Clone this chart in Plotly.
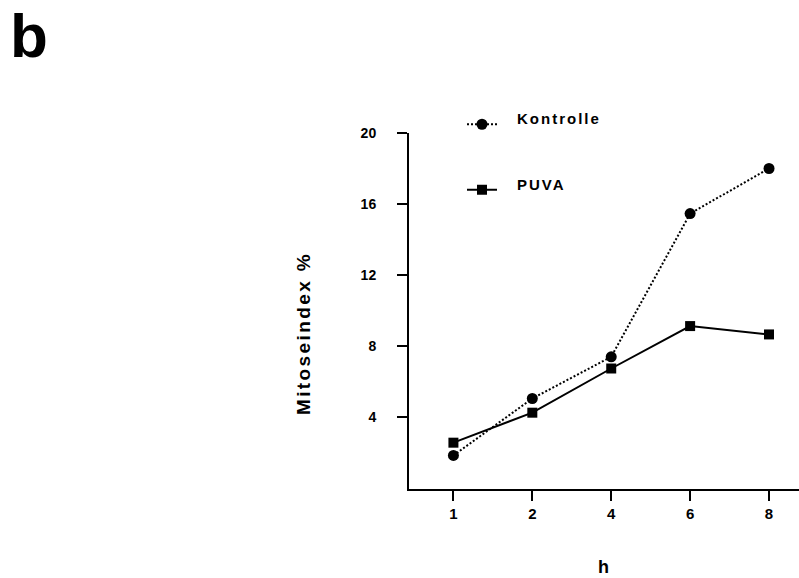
import plotly.graph_objects as go

hours = ["1", "2", "4", "6", "8"]
kontrolle = [1.83, 5.04, 7.39, 15.46, 18.0]
puva = [2.55, 4.24, 6.73, 9.12, 8.65]
y_ticks = [4, 8, 12, 16, 20]

FONT = "Liberation Sans, Arial, sans-serif"

W, H = 799, 578
L, R, T, B = 409, 0, 133, 89
PW, PH = W - L - R, H - T - B

def px(x):
    return (x - L) / PW

def py(y):
    return (H - B - y) / PH

fig = go.Figure()
fig.add_trace(go.Scatter(
    x=hours, y=kontrolle, name="Kontrolle", legendgroup="k",
    mode="lines+markers",
    line=dict(color="black", width=2, dash="2px,2px"),
    marker=dict(symbol="circle", size=11, color="black"),
))
fig.add_trace(go.Scatter(
    x=hours, y=puva, name="PUVA", legendgroup="p",
    mode="lines+markers",
    line=dict(color="black", width=2),
    marker=dict(symbol="square", size=10, color="black"),
))

fig.update_layout(
    width=W, height=H,
    margin=dict(l=L, r=R, t=T, b=B, pad=0),
    paper_bgcolor="white", plot_bgcolor="white",
    font=dict(family=FONT, color="black", weight="bold"),
    showlegend=True,
    legend=dict(
        x=px(462), y=py(108), xanchor="left", yanchor="top",
        bgcolor="rgba(0,0,0,0)", borderwidth=0,
        font=dict(size=15, family=FONT, weight="bold"),
        traceorder="grouped", tracegroupgap=43, itemwidth=30,
    ),
    xaxis=dict(
        type="category", range=[-0.563, 4.38],
        showline=True, linecolor="black", linewidth=2,
        ticks="outside", ticklen=10, tickwidth=2, tickcolor="black",
        showgrid=False, zeroline=False,
        tickfont=dict(size=15, family=FONT, weight="bold"),
    ),
    yaxis=dict(
        range=[-0.06, 20], tickvals=y_ticks,
        showline=True, linecolor="black", linewidth=2,
        ticks="outside", ticklen=10, tickwidth=2, tickcolor="black",
        showgrid=False, zeroline=False,
        ticklabelstandoff=18,
        tickfont=dict(size=14, family=FONT, weight="bold"),
    ),
    annotations=[
        dict(text="b", xref="paper", yref="paper", x=px(8), y=py(36),
             xanchor="left", yanchor="middle", showarrow=False,
             font=dict(size=62, family=FONT, weight="bold")),
        dict(text="Mitoseindex %", xref="paper", yref="paper",
             x=px(303), y=py(333.5), xanchor="center", yanchor="middle",
             textangle=-90, showarrow=False,
             font=dict(size=19, family=FONT, weight="bold")),
        dict(text="h", xref="paper", yref="paper",
             x=px(603.5), y=py(567), xanchor="center", yanchor="middle",
             showarrow=False,
             font=dict(size=18, family=FONT, weight="bold")),
    ],
)

post = """
var gd = document.getElementById('{plot_id}');
gd.querySelectorAll('.legend .scrollbox').forEach(function(s){ s.removeAttribute('clip-path'); });
gd.querySelectorAll('.legendtext').forEach(function(t){
  t.style.letterSpacing = '2px';
  var x = parseFloat(t.getAttribute('x') || 0);
  var y = parseFloat(t.getAttribute('y') || 0);
  t.setAttribute('x', x + 15);
  t.setAttribute('y', y - 6);
});
gd.querySelectorAll('.annotation-text').forEach(function(t){
  if (t.textContent.indexOf('Mitoseindex') === 0) { t.style.letterSpacing = '2.4px'; }
});
"""

fig.write_html("out.html", post_script=post)
